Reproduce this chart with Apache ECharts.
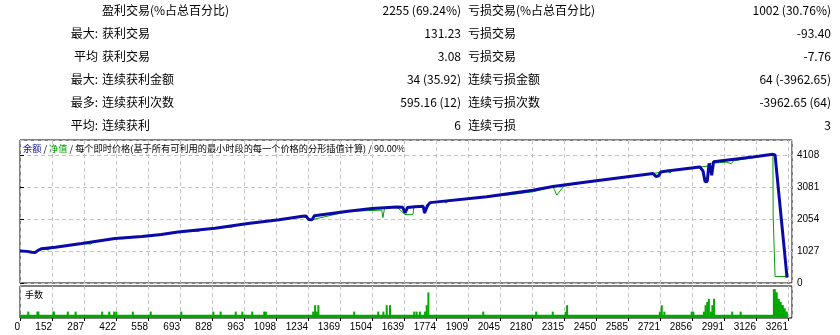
<!DOCTYPE html>
<html><head><meta charset="utf-8">
<script src="https://cdn.jsdelivr.net/npm/echarts/dist/echarts.min.js"></script>
<style>html,body{margin:0;padding:0;background:#fff}#c{width:840px;height:335px}</style>
</head><body><div id="c"></div>
<script>
// ---- statistics table ----
const statPrefix = ['', '最大:', '平均', '最大:', '最多:', '平均:'];
const statWinLabel = ['盈利交易(%占总百分比)', '获利交易', '获利交易', '连续获利金额', '连续获利次数', '连续获利'];
const statWinValue = ['2255 (69.24%)', '131.23', '3.08', '34 (35.92)', '595.16 (12)', '6'];
const statLossLabel = ['亏损交易(%占总百分比)', '亏损交易', '亏损交易', '连续亏损金额', '连续亏损次数', '连续亏损'];
const statLossValue = ['1002 (30.76%)', '-93.40', '-7.76', '64 (-3962.65)', '-3962.65 (64)', '3'];

// ---- axes ----
const xTickLabels = ['0','152','287','422','558','693','828','963','1098','1234','1369','1504','1639','1774','1909','2045','2180','2315','2450','2585','2721','2856','2991','3126','3261'];
const xLastTrade = 3261;
const xAxisMax = 3278;
const yTickStep = 1027;
const yAxisMax = 4590;
const lotsAxisMax = 0.1;

// ---- series: [trade number, value] ----
const balance = [[0,1030],[30,1015],[50,985],[64,975],[75,1040],[92,1100],[150,1150],[262,1270],[403,1430],[517,1490],[600,1560],[671,1640],[828,1760],[968,1910],[1100,2030],[1200,2140],[1215,2150],[1225,2040],[1240,2030],[1250,2160],[1393,2300],[1495,2390],[1600,2440],[1625,2430],[1635,2250],[1645,2420],[1677,2450],[1712,2460],[1718,2250],[1724,2240],[1730,2480],[1741,2580],[1982,2770],[2178,2980],[2263,3100],[2406,3245],[2688,3513],[2700,3420],[2712,3440],[2720,3560],[2747,3597],[2887,3725],[2900,3600],[2909,3250],[2918,3260],[2926,3840],[2932,3700],[2937,3460],[2942,3470],[2945,3890],[3112,4044],[3197,4130],[3206,4110],[3257,170]];
const equity = [[0,1030],[64,975],[92,1100],[120,1060],[130,1120],[262,1270],[300,1250],[310,1310],[403,1430],[440,1420],[450,1460],[517,1490],[560,1490],[570,1540],[671,1640],[760,1660],[770,1720],[828,1760],[900,1790],[910,1850],[968,1910],[1200,2140],[1240,2030],[1393,2300],[1536,2340],[1541,2100],[1548,2400],[1600,2440],[1635,2200],[1656,2190],[1669,2210],[1672,2440],[1712,2460],[1718,2230],[1741,2580],[1800,2620],[1810,2560],[1820,2640],[2100,2850],[2180,2930],[2263,3100],[2270,2980],[2279,2820],[2300,3020],[2310,3110],[2406,3245],[2688,3513],[2747,3597],[2760,3530],[2770,3610],[2860,3700],[2865,3757],[2926,3757],[2930,3840],[3000,3880],[3020,3830],[3030,3920],[3197,4130],[3198,2150],[3205,2150],[3206,210],[3257,210]];
const lotsBase = [[0,0.01],[3260,0.01]];
const lotsSpikes = [[35,0.02],[74,0.02],[78,0.02],[142,0.02],[144,0.02],[203,0.02],[236,0.02],[349,0.02],[379,0.02],[400,0.02],[409,0.02],[479,0.02],[555,0.02],[685,0.02],[821,0.02],[852,0.02],[916,0.02],[944,0.02],[986,0.02],[1037,0.02],[1044,0.02],[1245,0.02],[1253,0.04],[1260,0.02],[1267,0.04],[1419,0.02],[1521,0.02],[1543,0.02],[1557,0.04],[1571,0.04],[1674,0.02],[1684,0.02],[1698,0.02],[1720,0.02],[1727,0.04],[1734,0.08],[1967,0.02],[2192,0.02],[2262,0.02],[2317,0.02],[2323,0.04],[2717,0.02],[2725,0.04],[2736,0.02],[2852,0.02],[2859,0.02],[2904,0.02],[2911,0.04],[2918,0.05],[2925,0.06],[2934,0.02],[2940,0.04],[2947,0.06],[3024,0.02],[3060,0.02],[3201,0.09],[3205,0.09],[3209,0.08],[3213,0.08],[3218,0.06],[3222,0.06],[3226,0.05],[3230,0.05],[3235,0.04],[3239,0.04],[3243,0.03],[3247,0.03],[3252,0.02],[3256,0.02]];

const xStep = xLastTrade / (xTickLabels.length - 1);
const chart = echarts.init(document.getElementById('c'), null, {renderer: 'canvas'});

const CJK = '"Noto Sans CJK SC", "Noto Sans", sans-serif';
const NUM = '"Liberation Sans", "DejaVu Sans", sans-serif';
const graphics = [];
for (let i = 0; i < statWinLabel.length; i++) {
  const y = 10 + 23 * i;
  const base = {fontFamily: CJK, fontSize: 12, fill: '#000', verticalAlign: 'middle'};
  if (statPrefix[i]) graphics.push({type: 'text', x: 98, y: y, style: Object.assign({text: statPrefix[i], align: 'right'}, base), silent: true});
  graphics.push({type: 'text', x: 102, y: y, style: Object.assign({text: statWinLabel[i], align: 'left'}, base), silent: true});
  graphics.push({type: 'text', x: 461, y: y, style: Object.assign({text: statWinValue[i], align: 'right'}, base), silent: true});
  graphics.push({type: 'text', x: 468, y: y, style: Object.assign({text: statLossLabel[i], align: 'left'}, base), silent: true});
  graphics.push({type: 'text', x: 831, y: y, style: Object.assign({text: statLossValue[i], align: 'right'}, base), silent: true});
}
graphics.push({type: 'text', x: 23, y: 149, silent: true, style: {
  text: '{b|余额} / {g|净值} / 每个即时价格(基于所有可利用的最小时段的每一个价格的分形插值计算) / 90.00%',
  fontFamily: CJK, fontSize: 9.2, fill: '#000', verticalAlign: 'middle',
  rich: {b: {fill: '#1010a0', fontFamily: CJK, fontSize: 9.2}, g: {fill: '#00a000', fontFamily: CJK, fontSize: 9.2}}
}});
graphics.push({type: 'text', x: 25, y: 295, silent: true, style: {text: '手数', fontFamily: CJK, fontSize: 9, fill: '#000', verticalAlign: 'middle'}});

const splitDash = {show: true, lineStyle: {color: '#c4c4c4', type: [4, 3], width: 1}};
const xLabelFmt = function (v) {
  const k = v / xStep; const r = Math.round(k);
  return Math.abs(k - r) < 0.01 && r < xTickLabels.length ? xTickLabels[r] : '';
};

chart.setOption({
  animation: false,
  backgroundColor: '#fff',
  graphic: graphics,
  grid: [
    {left: 20, top: 140, width: 772, height: 143, show: true, borderColor: '#000', borderWidth: 1, backgroundColor: 'transparent'},
    {left: 20, top: 286, width: 772, height: 32, show: true, borderColor: '#000', borderWidth: 1, backgroundColor: 'transparent'}
  ],
  xAxis: [
    {type: 'value', gridIndex: 0, min: 0, max: xAxisMax, interval: xStep, axisLine: {show: false}, axisTick: {show: false}, axisLabel: {show: false}, splitLine: splitDash},
    {type: 'value', gridIndex: 1, min: 0, max: xAxisMax, interval: xStep, axisLine: {show: false},
      axisTick: {show: true, length: 3, lineStyle: {color: '#000'}},
      axisLabel: {show: true, formatter: xLabelFmt, align: 'right', margin: 4, fontFamily: NUM, fontSize: 10, color: '#000', showMaxLabel: false, hideOverlap: false},
      splitLine: splitDash}
  ],
  yAxis: [
    {type: 'value', gridIndex: 0, position: 'right', min: 0, max: yAxisMax, interval: yTickStep,
      axisLine: {show: false}, axisTick: {show: true, length: 4, lineStyle: {color: '#000'}},
      axisLabel: {show: true, showMaxLabel: false, margin: 5, fontFamily: NUM, fontSize: 10, color: '#000', formatter: function (v) { return String(v); }},
      splitLine: splitDash},
    {type: 'value', gridIndex: 1, min: 0, max: lotsAxisMax, axisLine: {show: false}, axisTick: {show: false}, axisLabel: {show: false}, splitLine: {show: false}}
  ],
  series: [
    {type: 'line', name: '净值', xAxisIndex: 0, yAxisIndex: 0, data: equity, showSymbol: false, lineStyle: {color: '#00a000', width: 1}, z: 2},
    {type: 'line', name: '余额', xAxisIndex: 0, yAxisIndex: 0, data: balance, showSymbol: false, lineStyle: {color: '#0a0aa8', width: 3}, z: 3},
    {type: 'line', name: 'lotsBase', xAxisIndex: 1, yAxisIndex: 1, data: lotsBase, showSymbol: false, lineStyle: {width: 0}, areaStyle: {color: '#00a800', opacity: 1}, z: 2},
    {type: 'bar', name: '手数', xAxisIndex: 1, yAxisIndex: 1, data: lotsSpikes, barWidth: 2, itemStyle: {color: '#00a800'}, z: 3}
  ]
});
</script></body></html>
